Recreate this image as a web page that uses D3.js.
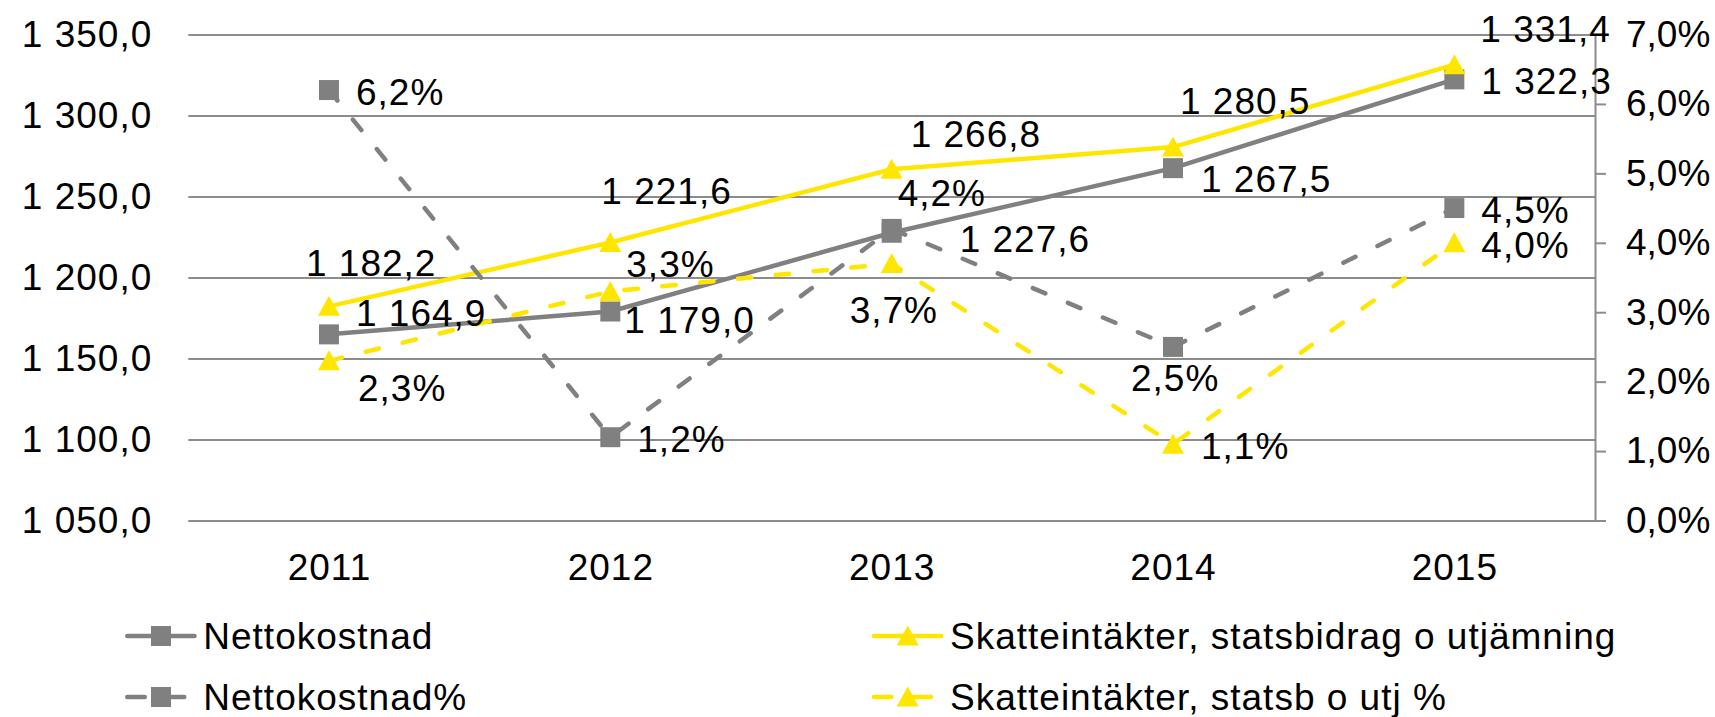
<!DOCTYPE html>
<html>
<head>
<meta charset="utf-8">
<script src="https://cdn.jsdelivr.net/npm/d3@7"></script>
<style>
  body { margin: 0; background: #fff; }
  svg { display: block; }
  text { font-family: "Liberation Sans", Arial, sans-serif; font-size: 37px; letter-spacing: 1px; fill: #000; }
  .right-axis text { letter-spacing: 0; }
</style>
</head>
<body>
<div id="chart"></div>
<script>
// data
const years = ["2011", "2012", "2013", "2014", "2015"];
const nettokostnad = [1164.9, 1179.0, 1227.6, 1267.5, 1322.3];
const skatteintakter = [1182.2, 1221.6, 1266.8, 1280.5, 1331.4];
const nettokostnadPct = [0.062, 0.012, 0.042, 0.025, 0.045];
const skattPct = [0.023, 0.033, 0.037, 0.011, 0.040];
const leftTicks = [1050, 1100, 1150, 1200, 1250, 1300, 1350];
const rightTicks = [0, 0.01, 0.02, 0.03, 0.04, 0.05, 0.06, 0.07];
const seriesNames = ["Nettokostnad", "Skatteintäkter, statsbidrag o utjämning", "Nettokostnad%", "Skatteintäkter, statsb o utj %"];

// label offsets from the point (text start, vertical centre)
const offNetto = [[27, -22], [14, 8.5], [68, 6], [28, 11], [27, 1.6]];
const offSkatt = [[-23, -44], [-9, -52], [19, -36], [7, -46], [26, -35.5]];
const offNettoPct = [[27, 1.7], [27, 1], [6, -36], [-42, 30.5], [27, 2]];
const offSkattPct = [[29, 27], [16, -28], [-42, 46], [28, 2], [27, 2]];

const W = 1715, H = 717;
const GRAY = "#808080", YELLOW = "#ffe600", GRID = "#8c8c8c";
const margin = {left: 188.3, right: 1595, top: 34.5, bottom: 520.5};

const sv = d3.formatLocale({decimal: ",", thousands: "\u00a0", grouping: [3], currency: ["", ""]});
const fmtNum = sv.format(",.1f");
const fmtPct = sv.format(".1%");

const svg = d3.select("#chart").append("svg").attr("width", W).attr("height", H);

const x = d3.scalePoint().domain(years).range([margin.left, margin.right]).padding(0.5);
const yL = d3.scaleLinear().domain([1050, 1350]).range([margin.bottom, margin.top]);
const yR = d3.scaleLinear().domain([0, 0.07]).range([margin.bottom, margin.top]);

// gridlines + left labels
const leftAxis = d3.axisLeft(yL).tickValues(leftTicks).tickFormat(fmtNum)
  .tickSize(-(margin.right - margin.left)).tickPadding(36);
const gL = svg.append("g").attr("transform", `translate(${margin.left},0)`).call(leftAxis);
gL.select(".domain").remove();
gL.selectAll(".tick line").attr("stroke", GRID).attr("stroke-width", 2);
gL.selectAll(".tick text").attr("font-size", null).attr("font-family", null).attr("fill", "#000");

// right axis (percent)
const rightAxis = d3.axisRight(yR).tickValues(rightTicks).tickFormat(fmtPct)
  .tickSize(11).tickSizeOuter(0).tickPadding(20);
const gR = svg.append("g").attr("class", "right-axis").attr("transform", `translate(${margin.right},0)`).call(rightAxis);
gR.select(".domain").attr("stroke", GRID).attr("stroke-width", 2);
gR.selectAll(".tick line").attr("stroke", GRID).attr("stroke-width", 2);
gR.selectAll(".tick text").attr("font-size", null).attr("font-family", null).attr("fill", "#000");

// x labels
const xAxis = d3.axisBottom(x).tickSize(0).tickPadding(33);
const gX = svg.append("g").attr("transform", `translate(0,${margin.bottom})`).call(xAxis);
gX.select(".domain").remove();
gX.selectAll(".tick text").attr("font-size", null).attr("font-family", null).attr("fill", "#000");

const DASH = "13.5 24.5";
const series = [
  {vals: nettokostnad, y: yL, color: GRAY, dash: null, marker: "square", fmt: fmtNum, off: offNetto},
  {vals: skatteintakter, y: yL, color: YELLOW, dash: null, marker: "triangle", fmt: fmtNum, off: offSkatt},
  {vals: nettokostnadPct, y: yR, color: GRAY, dash: DASH, marker: "square", fmt: fmtPct, off: offNettoPct},
  {vals: skattPct, y: yR, color: YELLOW, dash: DASH, marker: "triangle", fmt: fmtPct, off: offSkattPct}
];

const sym = {
  square: d3.symbol().type(d3.symbolSquare).size(400),
  triangle: () => "M0,-10.5L11,9.5L-11,9.5Z"
};

series.forEach(s => {
  const line = d3.line().x((d, i) => x(years[i])).y(d => s.y(d));
  svg.append("path")
    .datum(s.vals)
    .attr("d", line)
    .attr("fill", "none")
    .attr("stroke", s.color)
    .attr("stroke-width", 4.5)
    .attr("stroke-linecap", "round")
    .attr("stroke-linejoin", "round")
    .attr("stroke-dasharray", s.dash);
  svg.append("g").selectAll("path")
    .data(s.vals)
    .enter()
    .append("path")
    .attr("d", sym[s.marker])
    .attr("transform", (d, i) => `translate(${x(years[i])},${s.y(d)})`)
    .attr("fill", s.color);
});

// data labels on top
series.forEach(s => {
  svg.append("g").selectAll("text")
    .data(s.vals)
    .enter()
    .append("text")
    .attr("x", (d, i) => x(years[i]) + s.off[i][0])
    .attr("y", (d, i) => s.y(d) + s.off[i][1])
    .attr("dy", "0.36em")
    .text(d => s.fmt(d));
});

// legend
const legendPos = [[125, 636], [871.7, 636], [125, 697], [871.7, 697]];
const legendOrder = [0, 1, 2, 3];
legendOrder.forEach((k, j) => {
  const s = series[k];
  const [lx, ly] = legendPos[j];
  const g = svg.append("g").attr("transform", `translate(${lx},${ly})`);
  if (s.dash) {
    g.append("line").attr("x1", 2.25).attr("x2", 61).attr("y1", 0).attr("y2", 0)
      .attr("stroke", s.color).attr("stroke-width", 4.5).attr("stroke-linecap", "round")
      .attr("stroke-dasharray", "17.5 22");
  } else {
    g.append("line").attr("x1", 2.25).attr("x2", 69.5).attr("y1", 0).attr("y2", 0)
      .attr("stroke", s.color).attr("stroke-width", 4.5).attr("stroke-linecap", "round");
  }
  g.append("path").attr("d", sym[s.marker]).attr("transform", "translate(36,0)").attr("fill", s.color);
  g.append("text").attr("x", 78.3).attr("y", 0).attr("dy", "0.36em").text(seriesNames[k]);
});
</script>
</body>
</html>
